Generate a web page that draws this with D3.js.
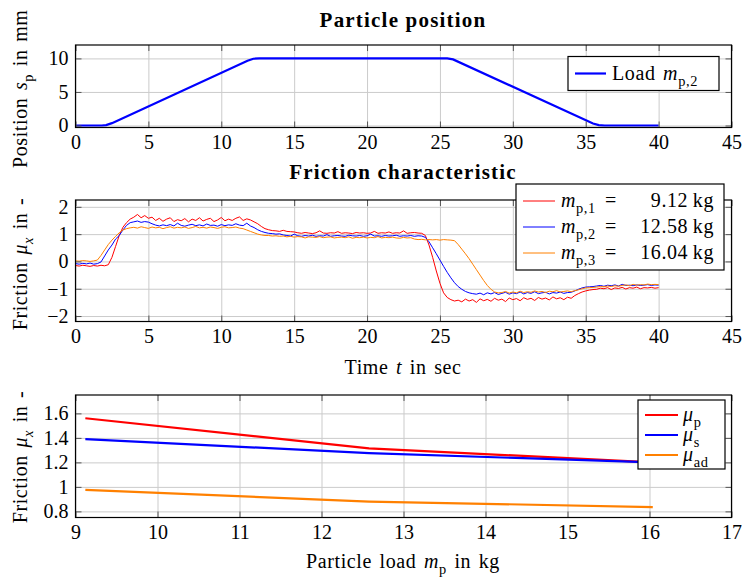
<!DOCTYPE html>
<html>
<head>
<meta charset="utf-8">
<script src="https://cdn.jsdelivr.net/npm/d3@7"></script>
<style>
body { margin: 0; background: #fff; }
svg, svg text { font-family: "Liberation Serif", "Times New Roman", serif; }
.lbl { letter-spacing: 0.6px; word-spacing: 2px; }
</style>
</head>
<body>
<svg id="chart" width="742" height="579"></svg>
<script>
// ---- data ----
// particle position (load m_p,2)
var posTime  = [0, 1.8, 2.1, 2.5, 11.8, 12.2, 12.6, 25.5, 25.9, 35.5, 35.9, 36.3, 40];
var posValue = [0, 0, 0.05, 0.35, 9.65, 9.95, 10, 10, 9.85, 0.3, 0.05, 0, 0];

// friction measurements, sampled at 4 Hz from 0 to 40 s
var frictionTime = d3.range(0, 40.001, 0.25);
var frictionM1 = [
  -0.15,-0.17,-0.14,-0.16,-0.18,-0.15,-0.17,-0.14,-0.16,
  -0.12,0.15,0.55,0.95,1.25,1.42,1.55,1.62,1.72,1.6,1.68,1.58,
  1.62,1.5,1.58,1.47,1.55,1.6,1.46,1.53,1.49,1.57,1.45,1.55,1.5,1.6,1.48,1.54,1.58,1.46,1.52,1.61,1.49,1.55,1.5,1.58,1.63,1.5,1.56,1.52,
  1.45,1.38,1.28,1.2,1.16,1.13,1.12,1.1,1.14,1.1,1.09,1.08,
  1.05,1.03,1.06,1.04,1.02,1.05,1.12,1.04,1.03,1.05,1.04,1.09,1.03,1.05,1.04,1.02,1.06,1.04,1.05,1.03,1.04,1.1,1.03,1.05,1.04,1.08,1.03,1.05,1.04,1.12,1.03,1.05,1.06,1.04,1.03,
  0.95,0.6,0.15,-0.35,-0.8,-1.15,-1.32,-1.4,-1.45,
  -1.42,-1.48,-1.38,-1.45,-1.4,-1.5,-1.37,-1.44,-1.39,-1.46,-1.35,-1.42,-1.38,-1.47,-1.34,-1.4,-1.36,-1.44,-1.33,-1.39,-1.35,-1.43,-1.32,-1.38,-1.34,-1.41,-1.3,-1.37,-1.33,-1.4,-1.31,-1.35,
  -1.25,-1.18,-1.12,-1.08,-1.05,-1.03,
  -1.02,-0.98,-1.0,-0.96,-1.03,-0.97,-0.99,-0.95,-1.01,-0.96,-0.98,-0.94,-1.0,-0.96,-0.97,-0.95,-0.98,-0.96
];
var frictionM2 = [
  -0.08,-0.1,-0.07,-0.09,-0.06,-0.1,-0.08,
  -0.02,0.2,0.42,0.6,0.82,0.95,1.15,1.32,1.42,1.45,1.48,1.43,1.46,1.44,1.38,
  1.33,1.3,1.34,1.31,1.35,1.3,1.4,1.32,1.29,1.33,1.36,1.31,1.34,1.3,1.37,1.32,1.33,1.29,1.35,1.31,1.34,1.32,1.38,1.33,1.31,1.4,
  1.3,1.24,1.16,1.1,1.06,1.03,1.02,1.0,1.01,
  0.97,0.95,0.93,1.0,0.94,0.92,0.95,0.93,0.96,0.92,0.94,0.93,0.98,0.92,0.94,0.95,0.93,0.92,0.96,0.94,0.93,0.95,0.92,0.94,1.0,0.93,0.94,0.92,0.95,0.93,0.94,0.96,0.92,0.94,0.93,0.95,0.92,0.94,0.93,
  0.88,0.72,0.5,0.28,0.05,-0.18,-0.4,-0.6,-0.78,-0.92,-1.02,-1.1,-1.15,-1.18,
  -1.2,-1.16,-1.22,-1.15,-1.19,-1.14,-1.21,-1.17,-1.13,-1.2,-1.15,-1.18,-1.12,-1.19,-1.14,-1.17,-1.11,-1.18,-1.15,-1.13,-1.19,-1.14,-1.16,-1.12,-1.17,-1.14,-1.13,
  -1.08,-1.02,-0.97,-0.94,-0.93,
  -0.92,-0.9,-0.88,-0.91,-0.87,-0.89,-0.86,-0.9,-0.84,-0.88,-0.87,-0.89,-0.86,-0.88,-0.87,-0.85,-0.88,-0.86,-0.87
];
var frictionM3 = [
  0.02,0.01,0.03,0.02,0.0,0.02,
  0.05,0.22,0.42,0.62,0.78,0.92,1.05,1.15,1.2,1.23,
  1.25,1.22,1.27,1.24,1.21,1.26,1.23,1.25,1.2,1.24,1.27,1.22,1.25,1.23,1.26,1.21,1.24,1.28,1.23,1.25,1.22,1.26,1.24,1.21,1.25,1.27,1.23,1.24,1.26,1.22,
  1.2,1.15,1.1,1.05,1.0,0.97,0.95,
  0.95,0.93,0.94,0.92,0.93,0.9,0.92,0.89,0.91,0.9,0.86,0.9,0.89,0.88,0.91,0.87,0.89,0.9,0.86,0.88,0.89,0.87,0.9,0.85,0.88,0.87,0.89,0.86,0.88,0.87,0.91,0.86,0.88,0.87,0.89,0.86,0.85,0.88,0.86,0.87,0.82,0.8,0.81,0.79,
  0.8,0.79,0.8,0.78,0.8,0.79,0.78,0.76,
  0.62,0.45,0.28,0.1,-0.1,-0.3,-0.5,-0.7,-0.88,-1.02,-1.12,-1.15,
  -1.14,-1.1,-1.16,-1.12,-1.15,-1.09,-1.14,-1.11,-1.13,-1.08,-1.12,-1.1,-1.14,-1.09,-1.11,-1.07,-1.12,-1.1,-1.08,-1.11,
  -1.07,-1.04,-1.0,-0.97,-0.96,-0.95,
  -0.94,-0.92,-0.93,-0.9,-0.92,-0.89,-0.91,-0.88,-0.86,-0.89,-0.84,-0.87,-0.85,-0.86,-0.83,-0.85,-0.84,-0.85
];

// friction coefficients vs particle load
var loadKg = [9.12, 12.58, 16.04];
var muP  = [1.56, 1.315, 1.2];
var muS  = [1.39, 1.275, 1.2];
var muAd = [0.975, 0.88, 0.835];

// ticks
var timeTicks = [0, 5, 10, 15, 20, 25, 30, 35, 40, 45];
var posTicks = [0, 5, 10];
var fricTicks = [-2, -1, 0, 1, 2];
var loadTicks = [9, 10, 11, 12, 13, 14, 15, 16, 17];
var muTicks = [0.8, 1, 1.2, 1.4, 1.6];

var RED = "#ff0000", BLUE = "#0000ff", ORANGE = "#ff8000";
var FS = 20;
var SERIF = "'Liberation Serif', 'Times New Roman', serif";
var left = 75.5, right = 731.5;

var svg = d3.select("#chart");

// text with italic / subscript parts: [text, style]
function rich(text, parts, fs) {
  var shift = 0;
  parts.forEach(function(p) {
    var sub = p[1].indexOf("sub") >= 0;
    var target = sub ? fs * 0.3 : 0;
    var ts = text.append("tspan").text(p[0]).attr("dy", target - shift);
    shift = target;
    ts.style("font-style", p[1].charAt(0) === "i" ? "italic" : "normal");
    if (sub) ts.attr("font-size", fs * 0.72);
  });
  return text;
}

function panel(top, bottom, xDomain, yDomain, xTicks, yTicks, yFmt) {
  var x = d3.scaleLinear().domain(xDomain).range([left, right]);
  var y = d3.scaleLinear().domain(yDomain).range([bottom, top]);
  var g = svg.append("g");

  // grid
  var grid = g.append("g");
  grid.append("g").attr("transform", "translate(0," + bottom + ")")
    .call(d3.axisBottom(x).tickValues(xTicks).tickSize(-(bottom - top)).tickFormat(""));
  grid.append("g").attr("transform", "translate(" + left + ",0)")
    .call(d3.axisLeft(y).tickValues(yTicks).tickSize(-(right - left)).tickFormat(""));
  grid.selectAll(".domain").remove();
  grid.selectAll("line").attr("stroke", "#cbcbcb").attr("stroke-width", 1);

  var plot = g.append("g");

  // axes with inward ticks
  var axes = g.append("g");
  axes.append("g").attr("transform", "translate(0," + bottom + ")")
    .call(d3.axisBottom(x).tickValues(xTicks).tickSizeInner(-6).tickSizeOuter(0).tickPadding(7));
  axes.append("g").attr("transform", "translate(0," + top + ")")
    .call(d3.axisTop(x).tickValues(xTicks).tickSizeInner(-6).tickSizeOuter(0).tickFormat(""));
  axes.append("g").attr("transform", "translate(" + left + ",0)")
    .call(d3.axisLeft(y).tickValues(yTicks).tickSizeInner(-6).tickSizeOuter(0).tickPadding(7).tickFormat(yFmt));
  axes.append("g").attr("transform", "translate(" + right + ",0)")
    .call(d3.axisRight(y).tickValues(yTicks).tickSizeInner(-6).tickSizeOuter(0).tickFormat(""));
  axes.selectAll(".domain").remove();
  axes.selectAll("g").attr("font-family", null).attr("font-size", null);
  axes.selectAll("line").attr("stroke", "#555");
  axes.selectAll("text").style("font-family", SERIF).style("font-size", FS + "px").attr("fill", "#000");

  g.append("rect").attr("x", left).attr("y", top)
    .attr("width", right - left).attr("height", bottom - top)
    .attr("fill", "none").attr("stroke", "#000").attr("stroke-width", 1.2);

  return { x: x, y: y, plot: plot, g: g };
}

function label(x, y, parts, opts) {
  opts = opts || {};
  var t = svg.append("text")
    .attr("class", opts.bold ? null : "lbl")
    .style("font-family", SERIF)
    .attr("font-size", opts.size || FS)
    .attr("text-anchor", opts.anchor || "middle")
    .attr("transform", "translate(" + x + "," + y + ")" + (opts.rot ? " rotate(-90)" : ""));
  if (opts.bold) t.attr("font-weight", "bold").attr("letter-spacing", "1.2px");
  return rich(t, parts, opts.size || FS);
}

function legendBox(x0, y0, x1, y1) {
  svg.append("rect").attr("x", x0).attr("y", y0)
    .attr("width", x1 - x0).attr("height", y1 - y0)
    .attr("fill", "#fff").attr("stroke", "#000").attr("stroke-width", 1.2);
}

// ---- panel 1: particle position ----
var p1 = panel(45, 127.5, [0, 45], [-0.3, 12], timeTicks, posTicks, d3.format("d"));
p1.plot.append("path")
  .datum(d3.zip(posTime, posValue))
  .attr("fill", "none").attr("stroke", BLUE).attr("stroke-width", 2.2)
  .attr("d", d3.line().x(function(d) { return p1.x(d[0]); }).y(function(d) { return p1.y(d[1]); }));

label(403, 27, [["Particle position", ""]], { bold: true, size: 21 });
label(27, 168, [["Position ", ""], ["s", "i"], ["p", "sub"], [" in mm", ""]], { rot: true, anchor: "start" });

legendBox(568, 56.5, 719, 90.5);
svg.append("line").attr("x1", 575).attr("x2", 606).attr("y1", 73.5).attr("y2", 73.5)
  .attr("stroke", BLUE).attr("stroke-width", 2.2);
label(612, 80, [["Load ", ""], ["m", "i"], ["p,2", "sub"]], { anchor: "start" });

// ---- panel 2: friction characteristic ----
var p2 = panel(200, 321.5, [0, 45], [-2.2, 2.25], timeTicks, fricTicks, d3.format("d"));
var fricSeries = [
  { values: frictionM1, color: RED, name: "1", mass: "9.12" },
  { values: frictionM2, color: BLUE, name: "2", mass: "12.58" },
  { values: frictionM3, color: ORANGE, name: "3", mass: "16.04" }
];
var fricLine = d3.line().x(function(d) { return p2.x(d[0]); }).y(function(d) { return p2.y(d[1]); });
p2.plot.selectAll("path").data(fricSeries).enter().append("path")
  .attr("fill", "none").attr("stroke", function(d) { return d.color; }).attr("stroke-width", 1)
  .attr("d", function(d) { return fricLine(d3.zip(frictionTime, d.values)); });

label(403, 179, [["Friction characteristic", ""]], { bold: true, size: 21 });
label(27, 264, [["Friction ", ""], ["μ", "i"], ["x", "isub"], [" in -", ""]], { rot: true });
label(403, 374, [["Time ", ""], ["t", "i"], [" in sec", ""]]);

legendBox(516, 184, 724, 270);
fricSeries.forEach(function(s, i) {
  var yy = 201 + i * 26;
  svg.append("line").attr("x1", 523).attr("x2", 555).attr("y1", yy).attr("y2", yy)
    .attr("stroke", s.color).attr("stroke-width", 1);
  label(561, yy + 6, [["m", "i"], ["p," + s.name, "sub"]], { anchor: "start" });
  label(611, yy + 6, [["=", ""]], {});
  label(714, yy + 6, [[s.mass + "\u2009kg", ""]], { anchor: "end" });
});

// ---- panel 3: friction vs particle load ----
var p3 = panel(395, 517.5, [9, 17], [0.75, 1.75], loadTicks, muTicks, d3.format("~g"));
var muSeries = [
  { values: muP, color: RED, sub: "p" },
  { values: muS, color: BLUE, sub: "s" },
  { values: muAd, color: ORANGE, sub: "ad" }
];
var muLine = d3.line().x(function(d) { return p3.x(d[0]); }).y(function(d) { return p3.y(d[1]); });
p3.plot.selectAll("path").data(muSeries).enter().append("path")
  .attr("fill", "none").attr("stroke", function(d) { return d.color; }).attr("stroke-width", 2.2)
  .attr("d", function(d) { return muLine(d3.zip(loadKg, d.values)); });

label(27, 457, [["Friction ", ""], ["μ", "i"], ["x", "isub"], [" in -", ""]], { rot: true });
label(403, 568, [["Particle load ", ""], ["m", "i"], ["p", "sub"], [" in kg", ""]]);

legendBox(638, 400, 725, 469);
muSeries.forEach(function(s, i) {
  var yy = 415 + i * 20;
  svg.append("line").attr("x1", 645).attr("x2", 678).attr("y1", yy).attr("y2", yy)
    .attr("stroke", s.color).attr("stroke-width", 2.2);
  label(683, yy + 6, [["μ", "i"], [s.sub, "sub"]], { anchor: "start" });
});
</script>
</body>
</html>
